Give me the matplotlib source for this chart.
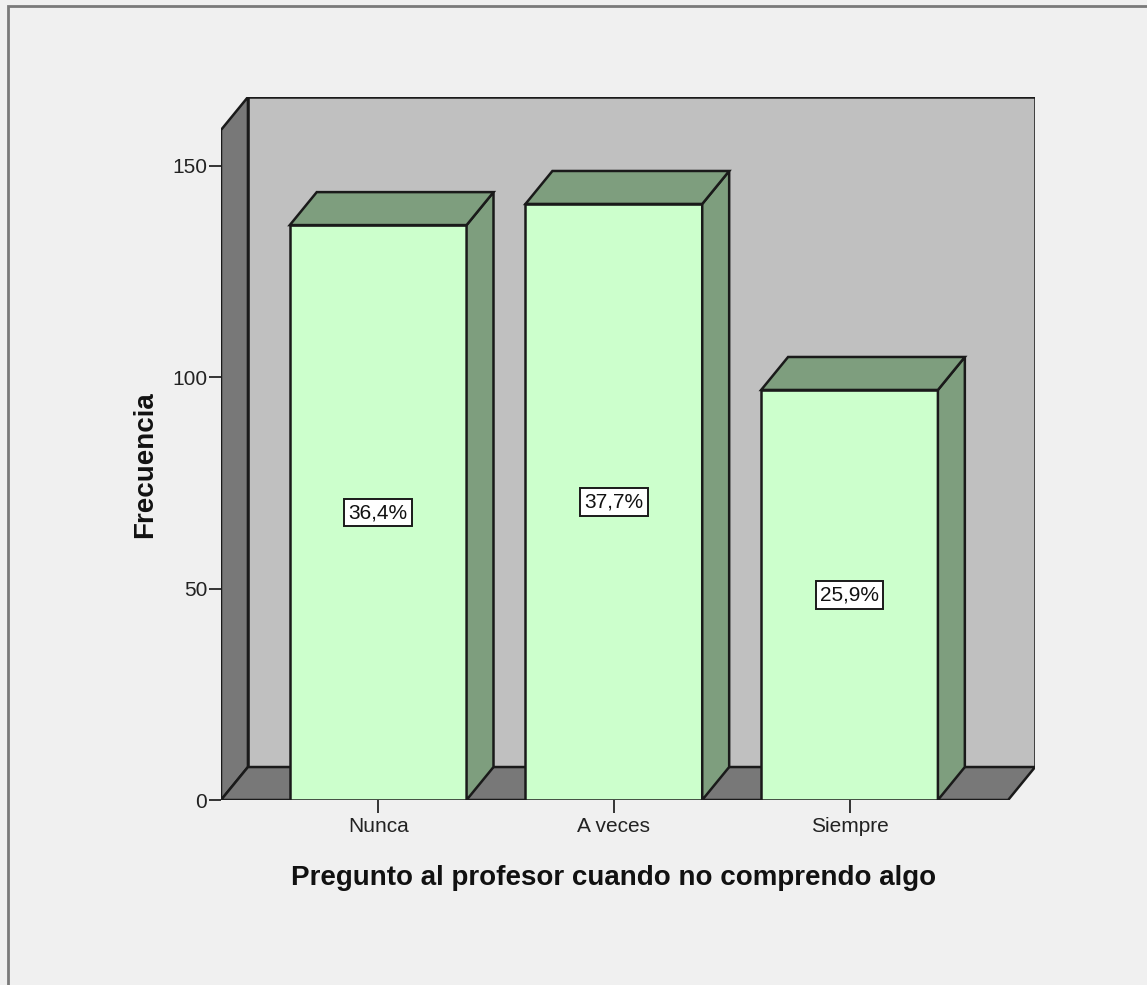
import matplotlib
matplotlib.use("Agg")
import matplotlib.pyplot as plt
from matplotlib.patches import Polygon, Rectangle

# Data
categories = ["Nunca", "A veces", "Siempre"]
counts = [136, 141, 97]
y_ticks = [0, 50, 100, 150]

x_title = "Pregunto al profesor cuando no comprendo algo"
y_title = "Frecuencia"

# Colours (SPSS 3D style)
BG = "#f0f0f0"
BACK_WALL = "#c0c0c0"
SIDE_WALL = "#787878"
BAR_FRONT = "#ccffcc"
BAR_SIDE = "#7e9e7e"
EDGE = "#1a1a1a"

plt.rcParams["font.family"] = ["Liberation Sans", "DejaVu Sans"]

W, H = 1147, 985
fig = plt.figure(figsize=(W / 100, H / 100), dpi=100, facecolor=BG)

# axes box in pixels: front-left x=221, back-right x=1035, floor y=800, back top y=97
ax = fig.add_axes([221 / W, (H - 800) / H, (1035 - 221) / W, (800 - 97) / H])
ax.set_facecolor("none")

x_min, x_max = -0.667, 2.787
wall_top = 158.5
dx, dy = 0.1143, 7.8
bar_w = 0.75
ax.set_xlim(x_min, x_max)
ax.set_ylim(0, wall_top + dy)


def face(pts, color):
    ax.add_patch(Polygon(pts, closed=True, facecolor=color, edgecolor=EDGE,
                         linewidth=1.8, joinstyle="miter"))


floor_right = 2.673
# back wall
face([(x_min + dx, dy), (floor_right + dx, dy), (floor_right + dx, wall_top + dy),
      (x_min + dx, wall_top + dy)], BACK_WALL)
# left wall
face([(x_min, 0), (x_min + dx, dy), (x_min + dx, wall_top + dy), (x_min, wall_top)], SIDE_WALL)
# floor
face([(x_min, 0), (floor_right, 0), (floor_right + dx, dy), (x_min + dx, dy)], SIDE_WALL)

total = sum(counts)
for i, v in enumerate(counts):
    l, r = i - bar_w / 2, i + bar_w / 2
    face([(l, 0), (r, 0), (r, v), (l, v)], BAR_FRONT)
    face([(r, 0), (r + dx, dy), (r + dx, v + dy), (r, v)], BAR_SIDE)
    face([(l, v), (r, v), (r + dx, v + dy), (l + dx, v + dy)], BAR_SIDE)
    pct = f"{v / total * 100:.1f}%".replace(".", ",")
    ax.text(i, v / 2, pct, ha="center", va="center", fontsize=15, color="#111111",
            bbox=dict(boxstyle="square,pad=0.2", facecolor="white", edgecolor=EDGE, linewidth=1.4))

for s in ax.spines.values():
    s.set_visible(False)
ax.set_yticks(y_ticks)
ax.set_xticks(range(len(categories)))
ax.set_xticklabels(categories)
ax.tick_params(axis="both", direction="out", length=9, width=1.4, color="#333333",
               labelsize=15, labelcolor="#222222", pad=1)
ax.tick_params(axis="x", pad=3)

fig.text(614 / W, 1 - 878 / H, x_title, ha="center", va="center",
         fontsize=20, fontweight="bold", color="#111111")
fig.text(145 / W, 1 - 465 / H, y_title, ha="center", va="center", rotation=90,
         fontsize=20, fontweight="bold", color="#111111")

# outer frame
fig.add_artist(Rectangle((8 / W, -0.01), 1.05, 1 - 6 / H + 0.01, transform=fig.transFigure,
                         fill=False, edgecolor="#7a7a7a", linewidth=2))

fig.savefig("out.png", dpi=100, facecolor=BG)
